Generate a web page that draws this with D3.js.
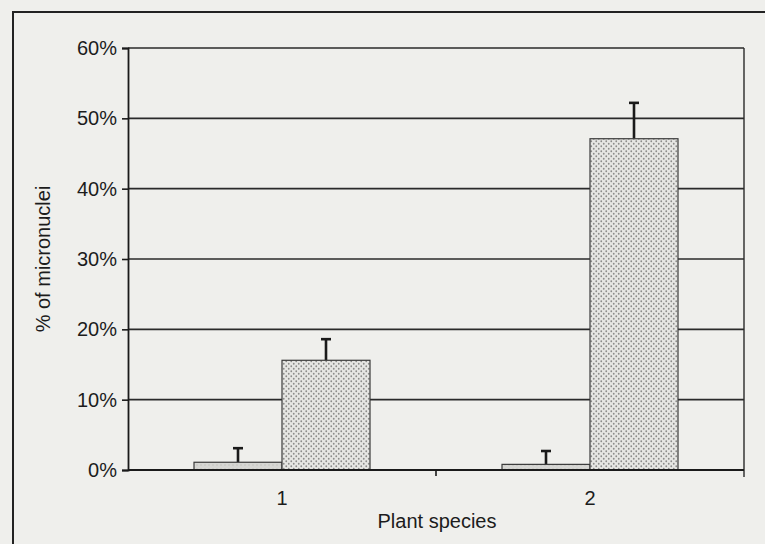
<!DOCTYPE html>
<html>
<head>
<meta charset="utf-8">
<script src="https://cdn.jsdelivr.net/npm/d3@7"></script>
<style>
  body { margin: 0; background: #efefec; }
  svg { display: block; font-family: 'Liberation Sans', Arial, sans-serif; }
</style>
</head>
<body>
<div id="chart"></div>
<script>
// values (% of micronuclei)
const categories = ['1', '2'];
const seriesNames = ['control', 'treated'];
const controlValues = [1.1, 0.8];
const controlErrors = [2.0, 1.9];
const treatedValues = [15.6, 47.1];
const treatedErrors = [3.0, 5.1];
const yTicks = [0, 10, 20, 30, 40, 50, 60];

const width = 765;
const height = 544;
const margin = { top: 48, right: 21, bottom: 74, left: 128 };

const svg = d3.select('#chart')
    .append('svg')
    .attr('width', width)
    .attr('height', height);

// dotted fill patterns
const defs = svg.append('defs');
const pLight = defs.append('pattern')
    .attr('id', 'pat-light')
    .attr('width', 4).attr('height', 4)
    .attr('patternUnits', 'userSpaceOnUse');
pLight.append('rect').attr('width', 4).attr('height', 4).attr('fill', '#d6d6d3');
pLight.append('circle').attr('cx', 1).attr('cy', 1).attr('r', 0.8).attr('fill', '#c2c2be');

const pDots = defs.append('pattern')
    .attr('id', 'pat-dots')
    .attr('width', 5).attr('height', 5)
    .attr('patternUnits', 'userSpaceOnUse');
pDots.append('rect').attr('width', 5).attr('height', 5).attr('fill', '#e6e6e3');
pDots.append('circle').attr('cx', 1.25).attr('cy', 1.25).attr('r', 0.9).attr('fill', '#8c8c8a');
pDots.append('circle').attr('cx', 3.75).attr('cy', 3.75).attr('r', 0.9).attr('fill', '#8c8c8a');

// outer frame of the scanned figure
svg.append('path')
    .attr('d', `M13,${height} V12 H${width}`)
    .attr('fill', 'none')
    .attr('stroke', '#222')
    .attr('stroke-width', 2);

const x = d3.scaleBand()
    .domain(categories)
    .range([margin.left, width - margin.right]);

const x1 = d3.scaleBand()
    .domain(seriesNames)
    .range([0, x.bandwidth()])
    .paddingOuter(0.75);

const y = d3.scaleLinear()
    .domain([0, 60])
    .range([height - margin.bottom, margin.top]);

// horizontal gridlines
svg.append('g')
    .selectAll('line')
    .data(yTicks.slice(1))
    .join('line')
    .attr('x1', margin.left)
    .attr('x2', width - margin.right)
    .attr('y1', d => y(d))
    .attr('y2', d => y(d))
    .attr('stroke', '#2a2a2a')
    .attr('stroke-width', 1.6);

// right border
svg.append('line')
    .attr('x1', width - margin.right).attr('x2', width - margin.right)
    .attr('y1', margin.top).attr('y2', y(0) + 7)
    .attr('stroke', '#2a2a2a').attr('stroke-width', 1.4);

const data = categories.flatMap((c, i) => [
    { cat: c, s: 'control', v: controlValues[i], e: controlErrors[i] },
    { cat: c, s: 'treated', v: treatedValues[i], e: treatedErrors[i] }
]);

// error bars (upper only)
const err = svg.append('g')
    .selectAll('g')
    .data(data)
    .join('g')
    .attr('transform', d => `translate(${x(d.cat) + x1(d.s) + x1.bandwidth() / 2},0)`);
err.append('line')
    .attr('y1', d => y(d.v))
    .attr('y2', d => y(d.v + d.e))
    .attr('stroke', '#1a1a1a')
    .attr('stroke-width', 2.6);
err.append('line')
    .attr('x1', -5).attr('x2', 5)
    .attr('y1', d => y(d.v + d.e))
    .attr('y2', d => y(d.v + d.e))
    .attr('stroke', '#1a1a1a')
    .attr('stroke-width', 2.6);

// bars
svg.append('g')
    .selectAll('rect')
    .data(data)
    .join('rect')
    .attr('x', d => x(d.cat) + x1(d.s))
    .attr('y', d => y(d.v))
    .attr('width', x1.bandwidth())
    .attr('height', d => y(0) - y(d.v))
    .attr('fill', d => d.s === 'control' ? 'url(#pat-light)' : 'url(#pat-dots)')
    .attr('stroke', '#3a3a3a')
    .attr('stroke-width', 1.2);

// y axis
const yAxis = svg.append('g')
    .attr('transform', `translate(${margin.left},0)`)
    .call(d3.axisLeft(y).tickValues(yTicks).tickSize(6).tickPadding(5).tickFormat(d => `${d}%`));
yAxis.select('.domain').attr('stroke', '#1a1a1a').attr('stroke-width', 1.8);
yAxis.selectAll('.tick line').attr('stroke', '#1a1a1a').attr('stroke-width', 1.6);
yAxis.selectAll('text').attr('font-size', '20px').attr('fill', '#1c1c1c');

// x axis baseline and category separators
svg.append('line')
    .attr('x1', margin.left).attr('x2', width - margin.right)
    .attr('y1', y(0)).attr('y2', y(0))
    .attr('stroke', '#1a1a1a').attr('stroke-width', 2);
svg.append('g')
    .selectAll('line')
    .data(categories.slice(1))
    .join('line')
    .attr('x1', d => x(d)).attr('x2', d => x(d))
    .attr('y1', y(0)).attr('y2', y(0) + 6)
    .attr('stroke', '#1a1a1a').attr('stroke-width', 1.6);

svg.append('g')
    .selectAll('text')
    .data(categories)
    .join('text')
    .attr('x', d => x(d) + x.bandwidth() / 2)
    .attr('y', y(0) + 35)
    .attr('text-anchor', 'middle')
    .attr('font-size', '20px')
    .attr('fill', '#1c1c1c')
    .text(d => d);

svg.append('text')
    .attr('x', 437)
    .attr('y', 528)
    .attr('text-anchor', 'middle')
    .attr('font-size', '20px')
    .attr('fill', '#1c1c1c')
    .text('Plant species');

svg.append('text')
    .attr('transform', 'rotate(-90)')
    .attr('x', -259)
    .attr('y', 50)
    .attr('text-anchor', 'middle')
    .attr('font-size', '20px')
    .attr('fill', '#1c1c1c')
    .text('% of micronuclei');
</script>
</body>
</html>
